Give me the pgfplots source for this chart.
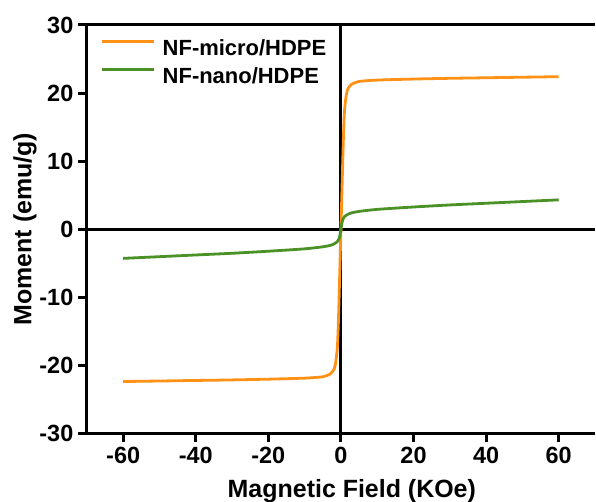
\documentclass[border=0pt]{standalone}
\usepackage{pgfplots}
\pgfplotsset{compat=1.18}
\usepackage{fontspec}
\setmainfont{Liberation Sans}
\definecolor{micro}{RGB}{255,146,22}
\definecolor{nano}{RGB}{74,145,38}
\begin{document}
\begin{tikzpicture}
\begin{axis}[
  scale only axis, width=509pt, height=409pt,
  xmin=-70, xmax=70, ymin=-30, ymax=30,
  clip=false,
  axis x line*=bottom, axis y line*=left,
  xtick={-60,-40,...,60}, ytick={-30,-20,...,30},
  tick align=outside, major tick length=9pt,
  axis line style={line width=3pt},
  every tick/.style={black, line width=3pt},
  /pgf/number format/assume math mode=true,
  ticklabel style={font=\fontsize{23.5}{26}\selectfont\bfseries},
  xticklabel style={yshift=-1pt},
  yticklabel style={xshift=-1pt},
  xlabel={Magnetic Field (KOe)},
  ylabel={Moment (emu/g)},
  label style={font=\fontsize{25}{28}\selectfont\bfseries},
  xlabel style={at={(axis cs:3,-30)}, anchor=base, yshift=-64pt},
  ylabel style={at={(axis description cs:-0.1454,0.5)}, anchor=north, inner sep=0pt},
  legend style={at={(axis description cs:0.0216,0.97)}, anchor=north west,
    draw=none, fill=none, font=\fontsize{22}{24}\selectfont\bfseries,
    nodes={inner sep=0pt, text height=16pt, text depth=4pt},
    row sep=8pt, /tikz/every odd column/.append style={column sep=7pt}},
  legend cell align=left,
  legend image code/.code={\draw[#1] (0pt,7.9pt) -- (52pt,7.9pt);},
]
\draw[black, line width=3pt] (axis cs:-70,0) -- (axis cs:70,0);
\draw[black, line width=3pt] (axis cs:0,-30) -- (axis cs:0,30);
\draw[black, line width=3pt] (axis cs:-70,30) -- (axis cs:70,30);
\addplot[micro, line width=2.8pt, smooth, tension=0.4] coordinates {
  (-60,-22.4) (-50,-22.32) (-40,-22.24) (-30,-22.16) (-20,-22.05) (-10,-21.9)
  (-5,-21.7) (-3,-21.3) (-2,-20.7) (-1.5,-19.8) (-1,-17.5) (-0.75,-14.5)
  (-0.5,-10) (-0.25,-5) (0,0) (0.25,5) (0.5,10) (0.75,14.5) (1,17.5)
  (1.5,19.8) (2,20.7) (3,21.3) (5,21.7) (10,21.9) (20,22.05) (30,22.16)
  (40,22.24) (50,22.32) (60,22.4)
};
\addlegendentry{NF-micro/HDPE}
\addplot[nano, line width=2.8pt, smooth, tension=0.4] coordinates {
  (-60,-4.3) (-50,-4.05) (-40,-3.8) (-30,-3.55) (-20,-3.25) (-10,-2.9)
  (-5,-2.6) (-3,-2.4) (-2,-2.2) (-1,-1.85) (-0.5,-1.4) (-0.25,-0.8) (0,0)
  (0.25,0.8) (0.5,1.4) (1,1.85) (2,2.2) (3,2.4) (5,2.6) (10,2.9) (20,3.25)
  (30,3.55) (40,3.8) (50,4.05) (60,4.3)
};
\addlegendentry{NF-nano/HDPE}
\end{axis}
\pgfresetboundingbox
\path (-87pt,-68pt) rectangle (510pt,434pt);
\end{tikzpicture}
\end{document}
